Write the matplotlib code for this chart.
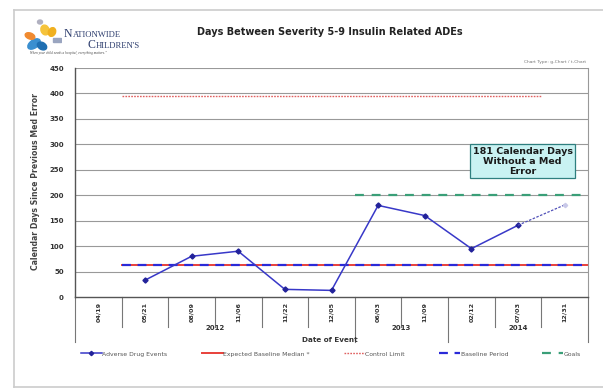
import numpy as np
import matplotlib
matplotlib.use("Agg")
import matplotlib.pyplot as plt
from matplotlib.lines import Line2D
from matplotlib.patches import Ellipse, Polygon
import matplotlib.transforms as mtransforms

# ---- data ---------------------------------------------------------------
dates = ["04/19", "05/21", "08/09", "11/06", "11/22", "12/05",
         "06/03", "11/09", "02/12", "07/03", "12/31"]
years = ["2012", "2013", "2014"]
year_spans = [(0, 5), (6, 7), (8, 10)]          # first/last category index per year
ade_days = [np.nan, 33, 80, 90, 15, 13, 180, 160, 95, 141, np.nan]
current_streak = 181                             # days since last event at 12/31
baseline_median = 62
control_limit = 394
goal = 200
y_ticks = [0, 50, 100, 150, 200, 250, 300, 350, 400, 450]

W, H = 603, 392
fig = plt.figure(figsize=(W / 100, H / 100), dpi=100)
fig.patch.set_facecolor("white")


def fx(px):
    return px / W


def fy(py):
    return 1 - py / H


# outer frame
fig.add_artist(Line2D([fx(14), fx(14)], [fy(10), fy(387)], color="#cccccc", lw=1.2))
fig.add_artist(Line2D([fx(14), 1.0], [fy(10), fy(10)], color="#cccccc", lw=1.2))
fig.add_artist(Line2D([fx(14), 1.0], [fy(387), fy(387)], color="#cccccc", lw=1.2))

ax = fig.add_axes([fx(75), fy(297), fx(588) - fx(75), fy(68) - fy(297)])
x = np.arange(len(dates))
ax.set_xlim(-0.5, len(dates) - 0.5)
ax.set_ylim(0, 450)

# gridlines
for v in y_ticks[1:]:
    ax.axhline(v, color="#999999", lw=0.8, zorder=1)
ax.spines["top"].set_visible(False)
ax.spines["left"].set_color("#555555")
ax.spines["bottom"].set_color("#555555")
ax.spines["right"].set_color("#999999")
ax.spines["left"].set_linewidth(1.0)
ax.spines["bottom"].set_linewidth(1.0)

ax.set_yticks(y_ticks)
ax.set_yticklabels([str(v) for v in y_ticks], fontsize=5, fontweight="bold", color="#333333")
ax.tick_params(axis="y", length=0, pad=8)
ax.set_xticks([])

# reference lines
ax.plot([0.5, 10.5], [baseline_median] * 2, color="#e8403a", lw=1.4, zorder=2)
ax.plot([0.5, 10.5], [baseline_median] * 2, color="#2a2ad8", lw=1.6,
        dashes=(4, 3), zorder=3)
ax.plot([0.5, 9.5], [control_limit] * 2, color="#e06060", lw=1.0,
        dashes=(1.2, 0.9), zorder=2)
ax.plot([5.5, 10.5], [goal] * 2, color="#3a9f78", lw=1.6, dashes=(4, 3.5), zorder=2)

# adverse drug events
ax.plot(x, ade_days, color="#3838c8", lw=1.1, marker="D", ms=2.6,
        mfc="#22229a", mec="#22229a", zorder=4)
last = 9
ax.plot([x[last], x[-1]], [ade_days[last], current_streak], color="#5050b8",
        lw=0.9, dashes=(2, 1.2), zorder=4)
ax.plot([x[-1]], [current_streak], marker="D", ms=2.2, color="#c8c8e8", zorder=4)

# category labels and separators below axis
trans = mtransforms.blended_transform_factory(ax.transData, ax.transAxes)
axh_px = 297 - 68
for i, d in enumerate(dates):
    ax.text(i, -15 / axh_px, d, transform=trans, rotation=90, ha="center", va="center",
            fontsize=4.6, fontweight="bold", color="#333333")
boundaries_year = {-0.5, 5.5, 7.5, 10.5}
for b in np.arange(-0.5, len(dates), 1.0):
    depth = 45 if b in boundaries_year else 30
    ax.plot([b, b], [0, -depth / axh_px], transform=trans, color="#777777",
            lw=0.8, clip_on=False)
for yr, (a, b) in zip(years, year_spans):
    ax.text((a + b) / 2, -31 / axh_px, yr, transform=trans, ha="center", va="center",
            fontsize=5, fontweight="bold", color="#333333")

fig.text(fx(330), fy(340), "Date of Event", ha="center", va="center",
         fontsize=5.2, fontweight="bold", color="#333333")
fig.text(fx(36), fy(182), "Calendar Days Since Previous Med Error", rotation=90,
         ha="center", va="center", fontsize=5.6, fontweight="bold", color="#444444")

# annotation box
ax.text(9.1, 267, "181 Calendar Days\nWithout a Med\nError", ha="center", va="center",
        fontsize=6.8, fontweight="bold", color="#1a1a1a", linespacing=1.15, zorder=6,
        bbox=dict(boxstyle="square,pad=0.25", fc="#c9f2f2", ec="#2f7f7f", lw=0.9))

# titles
fig.text(fx(330), fy(32), "Days Between Severity 5-9 Insulin Related ADEs",
         ha="center", va="center", fontsize=7, fontweight="bold", color="#222222")
fig.text(fx(586), fy(62), "Chart Type: g-Chart / t-Chart", ha="right", va="center",
         fontsize=3.2, color="#777777")

# legend
handles = [
    Line2D([], [], color="#3838c8", lw=1.1, marker="D", ms=2.2, mfc="#22229a", mec="#22229a"),
    Line2D([], [], color="#e8403a", lw=1.4),
    Line2D([], [], color="#e06060", lw=1.0, dashes=(1.2, 0.9)),
    Line2D([], [], color="#2a2ad8", lw=1.6, dashes=(4, 3)),
    Line2D([], [], color="#3a9f78", lw=1.6, dashes=(4, 3.5)),
]
labels = ["Adverse Drug Events", "Expected Baseline Median *", "Control Limit",
          "Baseline Period", "Goals"]
fig.legend(handles, labels, loc="center", bbox_to_anchor=(fx(331), fy(354)), ncol=5,
           frameon=False, fontsize=4.4, handlelength=3.4, handletextpad=0.1,
           columnspacing=5.6, labelcolor="#555555")

# logo
lax = fig.add_axes([fx(20), fy(58), fx(62) - fx(20), fy(14) - fy(58)])
lax.set_xlim(0, 42)
lax.set_ylim(44, 0)
lax.axis("off")
lax.add_patch(Ellipse((14, 30), 14, 8, angle=-35, color="#3a8fd0"))
lax.add_patch(Ellipse((22, 32), 10, 7, angle=30, color="#1f6fb2"))
lax.add_patch(Ellipse((10, 22), 10, 6, angle=20, color="#f08a30"))
lax.add_patch(Ellipse((25, 16), 8, 10, angle=-20, color="#f5c33b"))
lax.add_patch(Ellipse((32, 18), 7, 9, angle=25, color="#f0b020"))
lax.add_patch(Ellipse((20, 8), 5, 4, angle=0, color="#b0b0c0"))
lax.add_patch(Polygon([[33, 24], [41, 24], [41, 28], [33, 28]], color="#9aa5c0"))

fig.text(fx(64), fy(34), "N", fontsize=8.5, family="Liberation Serif",
         color="#2f3f6f", va="center")
fig.text(fx(73), fy(35), "ATIONWIDE", fontsize=6.2, family="Liberation Serif",
         color="#2f3f6f", va="center")
fig.text(fx(88), fy(45), "C", fontsize=8.5, family="Liberation Serif",
         color="#2f3f6f", va="center")
fig.text(fx(96), fy(46), "HILDREN'S", fontsize=6.2, family="Liberation Serif",
         color="#2f3f6f", va="center")
fig.text(fx(30), fy(53), "When your child needs a hospital, everything matters.\u201d",
         fontsize=2.4, style="italic", family="Liberation Serif", color="#444444",
         va="center")

fig.savefig("out.png", dpi=100, facecolor="white")
